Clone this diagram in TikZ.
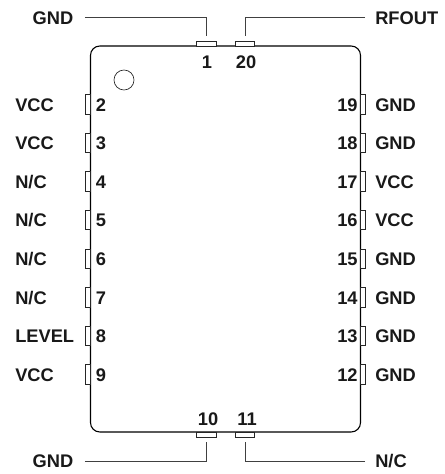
\documentclass[tikz,border=0pt]{standalone}
\usepackage{fontspec}
\setmainfont{Liberation Sans}
\usetikzlibrary{positioning}

\begin{document}
\begin{tikzpicture}[x=0.75pt, y=-0.75pt,
    chipbody/.style={rectangle, draw=black, fill=white, line width=0.8pt, rounded corners=7pt,
      minimum width=202.5pt, minimum height=289.5pt, inner sep=0pt},
    hpin/.style={rectangle, draw=black!85, fill=white, line width=0.6pt,
      minimum width=14.5pt, minimum height=3.7pt, inner sep=0pt},
    vpin/.style={rectangle, draw=black!85, fill=white, line width=0.6pt,
      minimum width=3.7pt, minimum height=14.5pt, inner sep=0pt},
    pinname/.style={font=\fontsize{13.7}{15}\selectfont\bfseries, text=black!90, inner sep=0pt,
      text height=9.8pt, text depth=0pt},
    pinnum/.style={pinname},
    lead/.style={draw=black!75, line width=0.6pt}]
    \useasboundingbox (0,0) rectangle (444,474);
    \node[chipbody] (chip) at (225.5,239) {};
    \node[circle, draw=black!85, line width=0.5pt, minimum size=15pt, inner sep=0pt] (dot) at (124,80) {};
    % top and bottom pins
    \node[hpin] (p1) at (206.5,43.5) {};
    \node[hpin] (p20) at (245,43.5) {};
    \node[hpin] (p10) at (206.5,434.5) {};
    \node[hpin] (p11) at (245,434.5) {};
    \node[pinnum] (n1) at (207,62) {1};
    \node[pinnum] (n20) at (246,62) {20};
    \node[pinnum] (n10) at (208,419) {10};
    \node[pinnum] (n11) at (247,419) {11};
    \node[pinname, anchor=east] (l1) at (73.5,17.5) {GND};
    \node[pinname, anchor=west] (l20) at (375,17.5) {RFOUT};
    \node[pinname, anchor=east] (l10) at (73.5,461) {GND};
    \node[pinname, anchor=west] (l11) at (375,461) {N/C};
    % left side
    \node[vpin] (p2) at (88,104.5) {};
    \node[vpin] (p3) at (88,143) {};
    \node[vpin] (p4) at (88,181.5) {};
    \node[vpin] (p5) at (88,220) {};
    \node[vpin] (p6) at (88,259) {};
    \node[vpin] (p7) at (88,297.5) {};
    \node[vpin] (p8) at (88,336) {};
    \node[vpin] (p9) at (88,374.5) {};
    \node[pinnum] (n2) [right=3.5pt of p2] {2};
    \node[pinnum] (n3) [right=3.5pt of p3] {3};
    \node[pinnum] (n4) [right=3.5pt of p4] {4};
    \node[pinnum] (n5) [right=3.5pt of p5] {5};
    \node[pinnum] (n6) [right=3.5pt of p6] {6};
    \node[pinnum] (n7) [right=3.5pt of p7] {7};
    \node[pinnum] (n8) [right=3.5pt of p8] {8};
    \node[pinnum] (n9) [right=3.5pt of p9] {9};
    \node[pinname, anchor=west] (l2) at (15,104.5) {VCC};
    \node[pinname, anchor=west] (l3) at (15,143) {VCC};
    \node[pinname, anchor=west] (l4) at (15,181.5) {N/C};
    \node[pinname, anchor=west] (l5) at (15,220) {N/C};
    \node[pinname, anchor=west] (l6) at (15,259) {N/C};
    \node[pinname, anchor=west] (l7) at (15,297.5) {N/C};
    \node[pinname, anchor=west] (l8) at (15,336) {LEVEL};
    \node[pinname, anchor=west] (l9) at (15,374.5) {VCC};
    % right side
    \node[vpin] (p19) at (363,104.5) {};
    \node[vpin] (p18) at (363,143) {};
    \node[vpin] (p17) at (363,181.5) {};
    \node[vpin] (p16) at (363,220) {};
    \node[vpin] (p15) at (363,259) {};
    \node[vpin] (p14) at (363,297.5) {};
    \node[vpin] (p13) at (363,336) {};
    \node[vpin] (p12) at (363,374.5) {};
    \node[pinnum] (n19) [left=1.7pt of p19] {19};
    \node[pinnum] (n18) [left=1.7pt of p18] {18};
    \node[pinnum] (n17) [left=1.7pt of p17] {17};
    \node[pinnum] (n16) [left=1.7pt of p16] {16};
    \node[pinnum] (n15) [left=1.7pt of p15] {15};
    \node[pinnum] (n14) [left=1.7pt of p14] {14};
    \node[pinnum] (n13) [left=1.7pt of p13] {13};
    \node[pinnum] (n12) [left=1.7pt of p12] {12};
    \node[pinname, anchor=west] (l19) at (375,104.5) {GND};
    \node[pinname, anchor=west] (l18) at (375,143) {GND};
    \node[pinname, anchor=west] (l17) at (375,181.5) {VCC};
    \node[pinname, anchor=west] (l16) at (375,220) {VCC};
    \node[pinname, anchor=west] (l15) at (375,259) {GND};
    \node[pinname, anchor=west] (l14) at (375,297.5) {GND};
    \node[pinname, anchor=west] (l13) at (375,336) {GND};
    \node[pinname, anchor=west] (l12) at (375,374.5) {GND};
    % leads
    \draw[lead, shorten <=8.5pt, shorten >=3.5pt] (l1.east) -| (p1.north);
    \draw[lead, shorten <=7.5pt, shorten >=3.5pt] (l20.west) -| (p20.north);
    \draw[lead, shorten <=8.5pt, shorten >=3.5pt] (l10.east) -| (p10.south);
    \draw[lead, shorten <=7.5pt, shorten >=3.5pt] (l11.west) -| (p11.south);
\end{tikzpicture}
\end{document}
